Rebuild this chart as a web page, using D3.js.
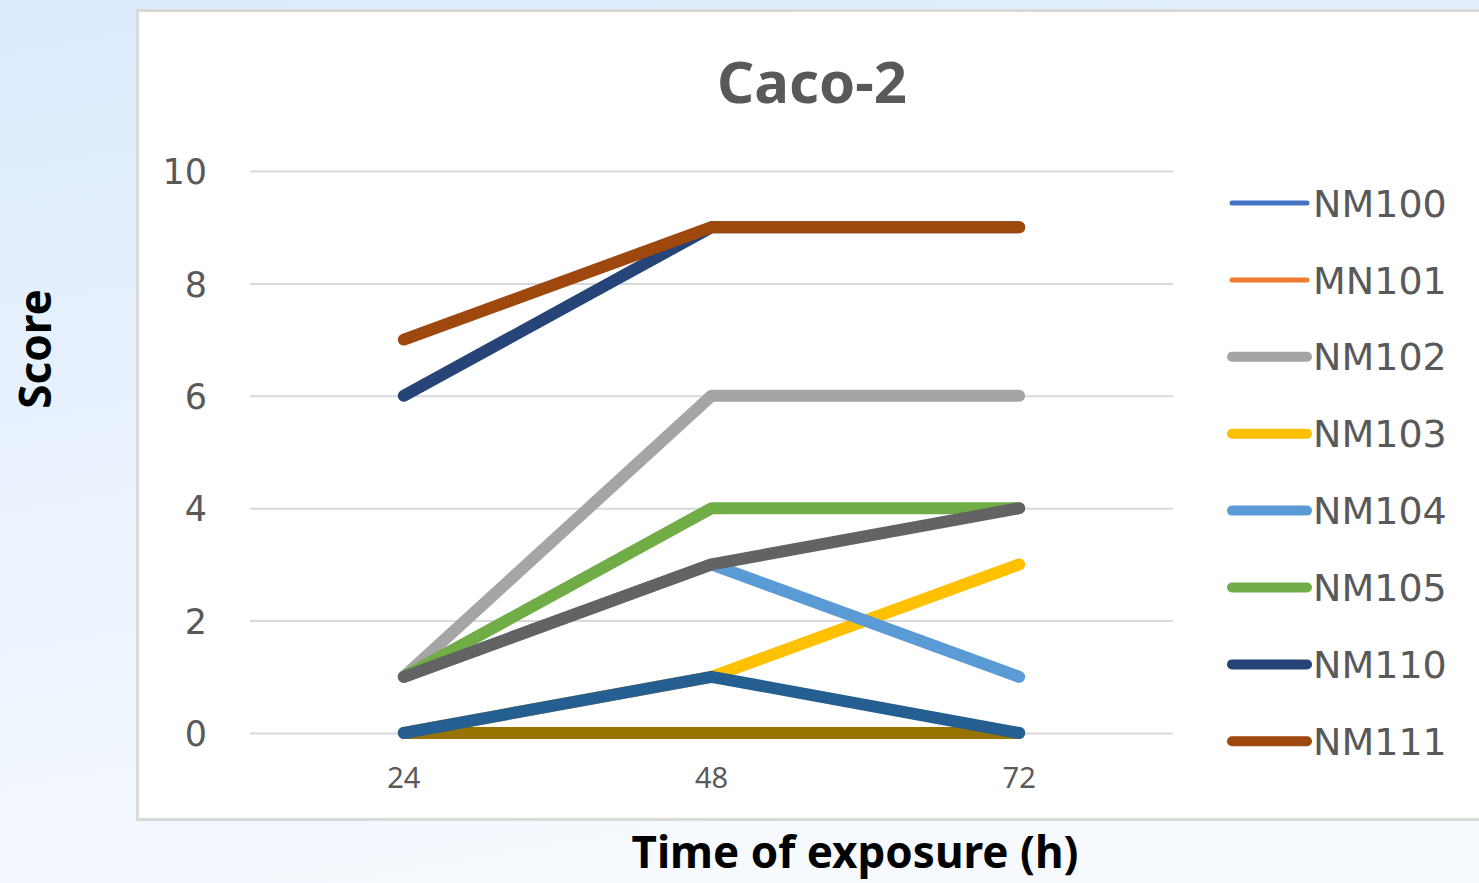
<!DOCTYPE html>
<html>
<head>
<meta charset="utf-8">
<script src="https://cdn.jsdelivr.net/npm/d3@7"></script>
<style>
  html, body { margin: 0; padding: 0; overflow: hidden; }
  svg { display: block; }
</style>
</head>
<body>
<svg id="chart" width="1479" height="883"></svg>
<script>
// ---- data ----
const categories = ["24", "48", "72"];
const yTicks = [0, 2, 4, 6, 8, 10];
const seriesNames = ["NM100", "MN101", "NM102", "NM103", "NM104", "NM105", "NM110", "NM111", "S9", "S10", "S11"];
const seriesColors = ["#4472C4", "#ED7D31", "#A5A5A5", "#FFC000", "#5B9BD5", "#70AD47", "#264478", "#9E480E", "#636363", "#997300", "#255E91"];
const seriesInLegend = [true, true, true, true, true, true, true, true, false, false, false];
const seriesThin = [true, true, false, false, false, false, false, false, false, false, false];
const NM100 = [0, 0, 0];
const MN101 = [0, 0, 0];
const NM102 = [1, 6, 6];
const NM103 = [0, 1, 3];
const NM104 = [1, 3, 1];
const NM105 = [1, 4, 4];
const NM110 = [6, 9, 9];
const NM111 = [7, 9, 9];
const S9 = [1, 3, 4];
const S10 = [0, 0, 0];
const S11 = [0, 1, 0];
const seriesValues = [NM100, MN101, NM102, NM103, NM104, NM105, NM110, NM111, S9, S10, S11];

const title = "Caco-2";
const xTitle = "Time of exposure (h)";
const yTitle = "Score";

// ---- drawing ----
const svg = d3.select("#chart");
const W = 1479, H = 883;

const defs = svg.append("defs");
const grad = defs.append("linearGradient").attr("id", "bg").attr("x1", 0).attr("y1", 0).attr("x2", 0.3).attr("y2", 1);
grad.append("stop").attr("offset", "0%").attr("stop-color", "#dcebfd");
grad.append("stop").attr("offset", "100%").attr("stop-color", "#f6f9fe");
svg.append("rect").attr("width", W).attr("height", H).attr("fill", "url(#bg)");

// chart box
svg.append("rect").attr("x", 137.5).attr("y", 10.5).attr("width", 1400).attr("height", 809)
  .attr("fill", "#ffffff").attr("stroke", "#d9d9d9").attr("stroke-width", 3);

const x = d3.scaleBand().domain(categories).range([250, 1173]);
const y = d3.scaleLinear().domain([0, 10]).range([733, 171]);
const px = c => x(c) + x.bandwidth() / 2;

// gridlines
const yAxis = d3.axisLeft(y).tickValues(yTicks).tickSize(-(1173 - 250)).tickPadding(43);
const gy = svg.append("g").attr("transform", "translate(250,0)").call(yAxis);
gy.select(".domain").remove();
gy.selectAll(".tick line").attr("stroke", "#d9d9d9").attr("stroke-width", 2);
gy.selectAll(".tick text").attr("fill", "#595959").attr("font-family", "DejaVu Sans")
  .attr("font-size", 35).attr("dy", "0.36em");

// x axis labels
const xAxis = d3.axisBottom(x).tickSize(0).tickPadding(40);
const gx = svg.append("g").attr("transform", "translate(0,733)").call(xAxis);
gx.select(".domain").remove();
gx.selectAll(".tick text").attr("fill", "#595959").attr("font-family", "Noto Sans")
  .attr("font-size", 29).attr("dy", "0.5em");

// lines
const line = d3.line().x((d, i) => px(categories[i])).y(d => y(d));
seriesValues.forEach((vals, s) => {
  svg.append("path").datum(vals).attr("d", line)
    .attr("fill", "none").attr("stroke", seriesColors[s])
    .attr("stroke-width", seriesThin[s] ? 5 : 12)
    .attr("stroke-linecap", "round").attr("stroke-linejoin", "round");
});

// legend
const legendIdx = seriesNames.map((n, i) => i).filter(i => seriesInLegend[i]);
const lg = svg.append("g");
legendIdx.forEach((s, k) => {
  const cy = 203 + k * 76.9;
  lg.append("line").attr("x1", 1232).attr("x2", 1307).attr("y1", cy).attr("y2", cy)
    .attr("stroke", seriesColors[s]).attr("stroke-width", seriesThin[s] ? 5 : 10)
    .attr("stroke-linecap", "round");
  lg.append("text").attr("x", 1313).attr("y", cy).attr("dy", "0.36em")
    .attr("font-family", "DejaVu Sans").attr("font-size", 38).attr("fill", "#595959")
    .text(seriesNames[s]);
});

// titles
svg.append("text").attr("x", 812).attr("y", 103).attr("text-anchor", "middle")
  .attr("font-family", "Noto Sans").attr("font-weight", "bold").attr("font-size", 58)
  .attr("fill", "#595959").text(title);
svg.append("text").attr("x", 855).attr("y", 868).attr("text-anchor", "middle")
  .attr("font-family", "Noto Sans").attr("font-weight", "bold").attr("font-size", 44)
  .attr("fill", "#000000").text(xTitle);
svg.append("text").attr("transform", "translate(51,349) rotate(-90)").attr("text-anchor", "middle")
  .attr("font-family", "Noto Sans").attr("font-weight", "bold").attr("font-size", 44)
  .attr("fill", "#000000").text(yTitle);
</script>
</body>
</html>
